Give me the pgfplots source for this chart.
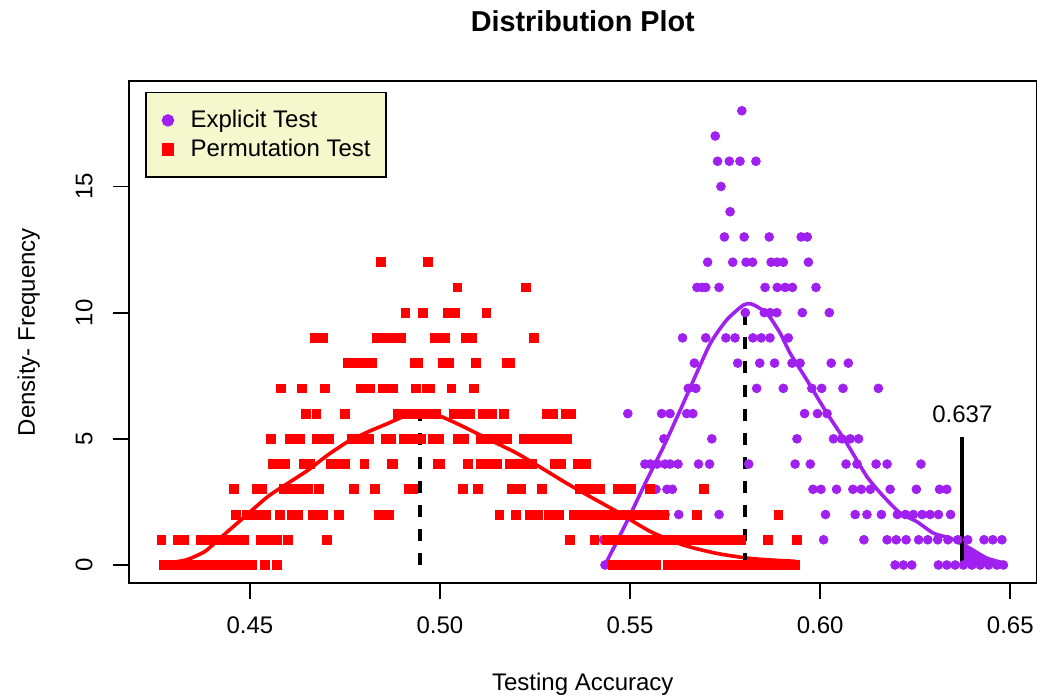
\documentclass[border=0pt]{standalone}
\usepackage{fontspec}
\setmainfont{Liberation Sans}
\usepackage{pgfplots}
\pgfplotsset{compat=1.18}
\definecolor{rpurple}{HTML}{A020F0}
\definecolor{rred}{HTML}{FF0000}
\definecolor{legfill}{RGB}{245,247,205}
\pgfplotsset{mylegimg/.style={legend image code/.code={\path (-4pt,-6pt) (9.85pt,6pt); \draw[##1, mark size=2.7pt] plot coordinates {(0pt,0pt)};}}}
\begin{document}
\begin{tikzpicture}
\useasboundingbox (-64.5pt,-58.35pt) rectangle (457.5pt,291.65pt);
\begin{axis}[
  at={(0pt,0pt)}, anchor=south west,
  scale only axis, width=453.75pt, height=251.15pt,
  xmin=0.4182, xmax=0.6569, ymin=-0.725, ymax=19.18,
  axis line style={line width=0.85pt},
  tick style={line width=0.85pt, black},
  tick align=outside, major tick length=8pt,
  xtick pos=left, ytick pos=left,
  xtick={0.45,0.5,0.55,0.6,0.65},
  xticklabels={0.45,0.50,0.55,0.60,0.65},
  ytick={0,5,10,15},
  yticklabels={0,5,10,15},
  tick label style={font=\fontsize{12}{14}\selectfont},
  yticklabel style={rotate=90, anchor=south},
  xticklabel shift=5.35pt, yticklabel shift=6.65pt,
  xlabel={Testing Accuracy}, ylabel={Density- Frequency},
  xlabel style={at={(axis description cs:0.5,-0.2019)}, anchor=center, font=\fontsize{12}{14}\selectfont},
  ylabel style={at={(axis description cs:-0.1105,0.5)}, anchor=center, font=\fontsize{12}{14}\selectfont},
  title={Distribution Plot},
  title style={at={(axis description cs:0.5,1.0960)}, anchor=center, font=\bfseries\fontsize{14.4}{17}\selectfont},
  legend style={at={(axis description cs:0.0176,0.9787)}, anchor=north west, fill=legfill, draw=black, line width=0.85pt, font=\fontsize{12}{14}\selectfont, inner xsep=6.65pt, inner ysep=7.5pt, row sep=1.65pt, nodes={inner sep=1pt}},
  legend cell align=left,
]
% Explicit Test points
\addplot[only marks, mark=*, mark size=2.2pt, color=rpurple, mark options={draw=none, fill=rpurple}, mylegimg] coordinates {
(0.5434,0)(0.5492,0)(0.6197,0)(0.6219,0)(0.6241,0)(0.6311,0)(0.6333,0)(0.6355,0)(0.6377,0)(0.6399,0)(0.6421,0)(0.6443,0)(0.6465,0)(0.6482,0)
(0.5430,1)(0.5453,1)(0.5474,1)(0.5500,1)(0.5526,1)(0.6009,1)(0.6115,1)(0.6176,1)(0.6200,1)(0.6226,1)(0.6259,1)(0.6283,1)(0.6309,1)(0.6336,1)(0.6362,1)(0.6388,1)(0.6431,1)(0.6454,1)(0.6478,1)
(0.5553,2)(0.5570,2)(0.5592,2)(0.5628,2)(0.5734,2)(0.6014,2)(0.6092,2)(0.6123,2)(0.6161,2)(0.6203,2)(0.6224,2)(0.6245,2)(0.6268,2)(0.6289,2)(0.6311,2)(0.6343,2)
(0.5568,3)(0.5597,3)(0.5611,3)(0.5981,3)(0.6002,3)(0.6043,3)(0.6086,3)(0.6108,3)(0.6132,3)(0.6184,3)(0.6253,3)(0.6314,3)(0.6333,3)
(0.5539,4)(0.5553,4)(0.5571,4)(0.5592,4)(0.5605,4)(0.5626,4)(0.5680,4)(0.5709,4)(0.5812,4)(0.5934,4)(0.5974,4)(0.6068,4)(0.6097,4)(0.6147,4)(0.6176,4)(0.6265,4)
(0.5589,5)(0.5715,5)(0.5939,5)(0.6035,5)(0.6057,5)(0.6079,5)(0.6101,5)
(0.5494,6)(0.5583,6)(0.5605,6)(0.5649,6)(0.5665,6)(0.5959,6)(0.5993,6)(0.6018,6)
(0.5653,7)(0.5673,7)(0.5833,7)(0.5903,7)(0.5978,7)(0.6004,7)(0.6060,7)(0.6153,7)
(0.5669,8)(0.5783,8)(0.5841,8)(0.5880,8)(0.5926,8)(0.5947,8)(0.6029,8)(0.6074,8)
(0.5638,9)(0.5699,9)(0.5752,9)(0.5776,9)(0.5823,9)(0.5845,9)(0.5868,9)(0.5916,9)
(0.5803,10)(0.5853,10)(0.5868,10)(0.5886,10)(0.5953,10)(0.6024,10)
(0.5676,11)(0.5689,11)(0.5699,11)(0.5734,11)(0.5855,11)(0.5887,11)(0.5908,11)(0.5927,11)(0.5989,11)
(0.5704,12)(0.5770,12)(0.5805,12)(0.5822,12)(0.5871,12)(0.5887,12)(0.5903,12)(0.5969,12)
(0.5748,13)(0.5800,13)(0.5866,13)(0.5950,13)(0.5966,13)
(0.5763,14)
(0.5739,15)
(0.5730,16)(0.5761,16)(0.5789,16)(0.5831,16)
(0.5724,17)
(0.5794,18)
};
\addlegendentry{Explicit Test}
% Permutation Test points
\addplot[only marks, mark=square*, mark size=2.2pt, color=rred, mark options={draw=none, fill=rred}, mylegimg] coordinates {
(0.4274,0)(0.4287,0)(0.4300,0)(0.4313,0)(0.4326,0)(0.4339,0)(0.4353,0)(0.4366,0)(0.4379,0)(0.4392,0)(0.4405,0)(0.4418,0)(0.4432,0)(0.4445,0)(0.4458,0)(0.4474,0)(0.4489,0)(0.4505,0)(0.4539,0)(0.4572,0)
(0.5454,0)(0.5467,0)(0.5480,0)(0.5493,0)(0.5507,0)(0.5520,0)(0.5533,0)(0.5546,0)(0.5559,0)(0.5568,0)
(0.5599,0)(0.5612,0)(0.5625,0)(0.5638,0)(0.5651,0)(0.5664,0)(0.5678,0)(0.5691,0)(0.5704,0)(0.5717,0)(0.5730,0)(0.5743,0)(0.5757,0)(0.5770,0)(0.5783,0)(0.5796,0)(0.5809,0)(0.5822,0)(0.5836,0)(0.5849,0)(0.5862,0)(0.5875,0)(0.5888,0)(0.5901,0)(0.5914,0)(0.5928,0)(0.5935,0)
(0.4267,1)(0.4311,1)(0.4326,1)(0.4370,1)(0.4383,1)(0.4396,1)(0.4409,1)(0.4422,1)(0.4436,1)(0.4449,1)(0.4462,1)(0.4475,1)(0.4484,1)(0.4528,1)(0.4542,1)(0.4555,1)(0.4572,1)(0.4600,1)(0.4703,1)
(0.5341,1)(0.5406,1)(0.5439,1)(0.5453,1)(0.5466,1)(0.5479,1)(0.5492,1)(0.5505,1)(0.5518,1)(0.5532,1)(0.5545,1)(0.5558,1)(0.5571,1)(0.5584,1)(0.5597,1)(0.5611,1)(0.5624,1)(0.5637,1)(0.5650,1)(0.5663,1)(0.5676,1)(0.5689,1)(0.5703,1)(0.5716,1)(0.5729,1)(0.5742,1)(0.5755,1)(0.5768,1)(0.5782,1)(0.5792,1)(0.5863,1)(0.5939,1)
(0.4463,2)(0.4493,2)(0.4505,2)(0.4518,2)(0.4532,2)(0.4543,2)(0.4578,2)(0.4611,2)(0.4626,2)(0.4665,2)(0.4693,2)(0.4735,2)(0.4839,2)(0.4853,2)(0.4866,2)(0.5156,2)(0.5199,2)(0.5236,2)(0.5249,2)(0.5259,2)(0.5287,2)(0.5300,2)(0.5314,2)
(0.5351,2)(0.5364,2)(0.5378,2)(0.5391,2)(0.5404,2)(0.5417,2)(0.5430,2)(0.5443,2)(0.5457,2)(0.5470,2)(0.5483,2)(0.5496,2)(0.5509,2)(0.5522,2)(0.5536,2)(0.5549,2)(0.5562,2)(0.5575,2)(0.5590,2)(0.5676,2)(0.5890,2)
(0.4457,3)(0.4517,3)(0.4532,3)(0.4589,3)(0.4603,3)(0.4616,3)(0.4629,3)(0.4642,3)(0.4653,3)(0.4682,3)(0.4773,3)(0.4828,3)(0.4918,3)(0.4929,3)(0.5061,3)(0.5100,3)(0.5188,3)(0.5201,3)(0.5214,3)(0.5269,3)
(0.5368,3)(0.5382,3)(0.5395,3)(0.5408,3)(0.5421,3)(0.5467,3)(0.5482,3)(0.5495,3)(0.5502,3)(0.5553,3)(0.5694,3)
(0.4561,4)(0.4567,4)(0.4593,4)(0.4643,4)(0.4659,4)(0.4714,4)(0.4726,4)(0.4739,4)(0.4751,4)(0.4801,4)(0.4872,4)(0.4876,4)(0.4993,4)(0.5001,4)(0.5073,4)(0.5108,4)(0.5121,4)(0.5134,4)(0.5149,4)
(0.5183,4)(0.5196,4)(0.5209,4)(0.5222,4)(0.5236,4)(0.5242,4)(0.5302,4)(0.5318,4)(0.5363,4)(0.5384,4)
(0.4555,5)(0.4605,5)(0.4618,5)(0.4631,5)(0.4675,5)(0.4682,5)(0.4707,5)(0.4769,5)(0.4779,5)(0.4804,5)(0.4813,5)(0.4857,5)(0.4870,5)(0.4905,5)(0.4918,5)(0.4932,5)(0.4945,5)(0.4949,5)(0.4981,5)(0.4997,5)
(0.5046,5)(0.5062,5)(0.5108,5)(0.5121,5)(0.5134,5)(0.5147,5)(0.5161,5)(0.5176,5)(0.5220,5)(0.5233,5)(0.5246,5)(0.5259,5)(0.5272,5)(0.5286,5)(0.5299,5)(0.5312,5)(0.5325,5)(0.5334,5)
(0.4648,6)(0.4675,6)(0.4749,6)(0.4889,6)(0.4903,6)(0.4916,6)(0.4929,6)(0.4942,6)(0.4955,6)(0.4968,6)(0.4982,6)(0.4989,6)(0.5036,6)(0.5050,6)(0.5063,6)(0.5078,6)(0.5112,6)(0.5125,6)(0.5138,6)(0.5168,6)(0.5281,6)(0.5296,6)(0.5330,6)(0.5345,6)
(0.4582,7)(0.4637,7)(0.4697,7)(0.4791,7)(0.4805,7)(0.4817,7)(0.4850,7)(0.4877,7)(0.4937,7)(0.4966,7)(0.4975,7)(0.5030,7)(0.5089,7)
(0.4758,8)(0.4774,8)(0.4789,8)(0.4805,8)(0.4821,8)(0.4933,8)(0.4942,8)(0.5008,8)(0.5024,8)(0.5095,8)(0.5175,8)(0.5184,8)
(0.4671,9)(0.4692,9)(0.4833,9)(0.4861,9)(0.4880,9)(0.4898,9)(0.4987,9)(0.5000,9)(0.5013,9)(0.5068,9)(0.5084,9)(0.5247,9)
(0.4909,10)(0.4956,10)(0.5020,10)(0.5039,10)(0.5122,10)
(0.5046,11)(0.5226,11)
(0.4844,12)(0.4969,12)
};
\addlegendentry{Permutation Test}
% density curves
\addplot[forget plot, rred, line width=1.8pt, smooth, tension=0.4] coordinates {
(0.4274,0.06)(0.4332,0.20)(0.4381,0.53)(0.4416,0.99)(0.4486,1.91)(0.4547,2.71)(0.4600,3.24)(0.4653,3.76)(0.4705,4.36)(0.4758,4.89)(0.4811,5.28)(0.4863,5.61)(0.4907,5.90)(0.4947,6.03)(0.5000,5.90)(0.5070,5.42)(0.5132,4.95)(0.5202,4.43)(0.5272,3.80)(0.5333,3.24)(0.5403,2.64)(0.5465,2.12)(0.5553,1.33)(0.5640,0.79)(0.5728,0.46)(0.5816,0.26)(0.5903,0.17)(0.5934,0.15)
};
\addplot[forget plot, rpurple, line width=1.8pt, smooth, tension=0.4] coordinates {
(0.5434,0)(0.5465,0.92)(0.5500,1.98)(0.5544,3.37)(0.5588,4.69)(0.5632,6.14)(0.5667,7.33)(0.5711,8.78)(0.5754,9.71)(0.5798,10.30)(0.5820,10.34)(0.5860,9.97)(0.5895,9.18)(0.5921,8.39)(0.5965,7.33)(0.6018,6.01)(0.6070,4.82)(0.6123,3.50)(0.6167,2.71)(0.6211,2.05)(0.6254,1.72)(0.6298,1.26)(0.6342,1.06)(0.6386,0.73)(0.6439,0.27)(0.6487,0.07)
};
\addplot[forget plot, fill=rpurple, draw=rpurple, line width=0.5pt] coordinates {
(0.6374,0)(0.6374,0.80)(0.6405,0.50)(0.6439,0.27)(0.6487,0.07)(0.6487,0)
} -- cycle;
% mean lines
\addplot[forget plot, black, line width=2pt, dash pattern=on 6pt off 6pt] coordinates {(0.4948,0)(0.4948,6.0)};
\addplot[forget plot, black, line width=2pt, dash pattern=on 6pt off 6pt] coordinates {(0.5803,0)(0.5803,10.0)};
% observed value
\addplot[forget plot, black, line width=2pt] coordinates {(0.6374,0)(0.6374,5.08)};
\node[font=\fontsize{12}{14}\selectfont, anchor=center] at (axis cs:0.6374,5.98) {0.637};
\end{axis}
\end{tikzpicture}
\end{document}
